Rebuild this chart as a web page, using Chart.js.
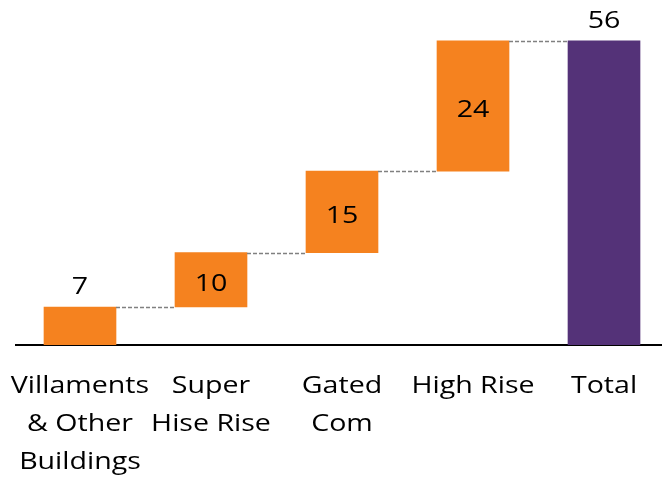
<!DOCTYPE html>
<html lang="en">
<head>
    <meta charset="UTF-8">
    <title>Waterfall by Building Type</title>
    <script src="https://cdn.jsdelivr.net/npm/chart.js"></script>
    <style>
        body { margin: 0; background: #fff; }
        .chart-container { position: relative; width: 662px; height: 477px; }
    </style>
</head>
<body>
    <div class="chart-container">
        <canvas id="waterfallChart"></canvas>
    </div>

    <script>
        // Data
        const categories = [
            ['Villaments', '& Other', 'Buildings'],
            ['Super', 'Hise Rise'],
            ['Gated', 'Com'],
            ['High Rise'],
            ['Total']
        ];
        const steps = [7, 10, 15, 24];
        const totalValue = 56;

        const stepColor = '#F5821F';
        const totalColor = '#543278';
        const FONT = "'Open Sans', sans-serif";
        const STRETCH = 1.19;   // the source picture's text is wide

        // floating ranges for the waterfall
        let running = 0;
        const ranges = steps.map(v => {
            const r = [running, running + v];
            running += v;
            return r;
        });
        ranges.push([0, totalValue]);
        const barLabels = steps.concat([totalValue]);

        function wideText(ctx, text, x, y) {
            ctx.save();
            ctx.translate(x, y);
            ctx.scale(STRETCH, 1);
            ctx.fillText(text, 0, 0);
            ctx.restore();
        }

        // connectors, value labels, category labels
        const waterfallExtras = {
            id: 'waterfallExtras',
            afterDatasetsDraw(chart) {
                const ctx = chart.ctx;
                const meta = chart.getDatasetMeta(0);
                const yScale = chart.scales.y;
                const xScale = chart.scales.x;
                ctx.save();

                ctx.strokeStyle = '#808080';
                ctx.lineWidth = 1.5;
                ctx.setLineDash([4, 2]);
                for (let i = 0; i < meta.data.length - 1; i++) {
                    const a = meta.data[i];
                    const b = meta.data[i + 1];
                    const level = Math.round(yScale.getPixelForValue(ranges[i][1])) + 0.5;
                    ctx.beginPath();
                    ctx.moveTo(a.x + a.width / 2, level);
                    ctx.lineTo(b.x - b.width / 2, level);
                    ctx.stroke();
                }
                ctx.setLineDash([]);

                ctx.fillStyle = '#000';
                ctx.font = '24px ' + FONT;
                ctx.textAlign = 'center';
                ctx.textBaseline = 'alphabetic';
                meta.data.forEach((bar, i) => {
                    const top = Math.min(bar.y, bar.base);
                    const h = Math.abs(bar.base - bar.y);
                    const isTotal = i === meta.data.length - 1;
                    if (isTotal || h < 45) {
                        wideText(ctx, String(barLabels[i]), bar.x, top - 12.5);
                    } else {
                        wideText(ctx, String(barLabels[i]), bar.x, top + h / 2 + 11.5);
                    }
                });

                // category labels under the axis
                const axisY = xScale.top;
                xScale.ticks.forEach(t => {
                    const px = xScale.getPixelForValue(t.value);
                    categories[t.value].forEach((line, k) => {
                        wideText(ctx, line, px, axisY + 48 + k * 38);
                    });
                });
                ctx.restore();
            }
        };

        const ctx = document.getElementById('waterfallChart').getContext('2d');
        new Chart(ctx, {
            type: 'bar',
            data: {
                datasets: [{
                    data: ranges.map((r, i) => ({ x: i, y: r })),
                    backgroundColor: ranges.map((r, i) => i === ranges.length - 1 ? totalColor : stepColor),
                    barThickness: 72,
                    borderWidth: 0
                }]
            },
            options: {
                responsive: true,
                maintainAspectRatio: false,
                animation: false,
                layout: { padding: { left: 16, right: 0, top: 0, bottom: 0 } },
                plugins: {
                    legend: { display: false },
                    tooltip: { enabled: false }
                },
                scales: {
                    x: {
                        type: 'linear',
                        bounds: 'data',
                        offset: false,
                        min: -0.4885,
                        max: 4.4427,
                        grid: { display: false, drawTicks: false, offset: false },
                        border: { display: true, color: '#000', width: 2 },
                        afterBuildTicks: scale => {
                            scale.ticks = categories.map((_, i) => ({ value: i }));
                        },
                        afterFit: scale => { scale.height = 132; },
                        ticks: { display: false }
                    },
                    y: {
                        display: false,
                        min: 0,
                        max: 63.5
                    }
                }
            },
            plugins: [waterfallExtras]
        });
    </script>
</body>
</html>
